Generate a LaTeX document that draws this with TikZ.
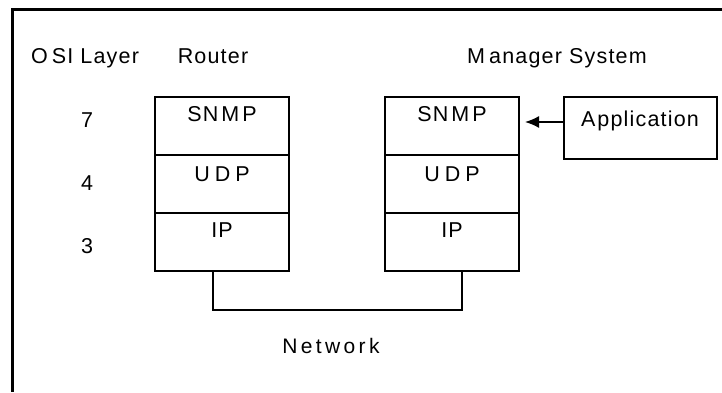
\documentclass[tikz,border=0pt]{standalone}
\usepackage{fontspec}
\setmainfont{Liberation Sans}[LetterSpace=5.5]
\usetikzlibrary{arrows.meta}

\begin{document}
\begin{tikzpicture}[x=1pt,y=-1pt,
  txt/.style={font=\fontsize{21.5}{24}\selectfont, inner sep=0pt, anchor=base},
  widetxt/.style={txt, font=\fontsize{21}{24}\selectfont\addfontfeature{LetterSpace=16}},
  layer/.style={draw, line width=2pt, minimum width=134pt, minimum height=58pt, inner sep=0pt},
  appbox/.style={draw, line width=2pt, minimum width=153pt, minimum height=62pt, inner sep=0pt},
  link/.style={line width=1.6pt},
  arr/.style={line width=1.6pt, -{Latex[length=14pt,width=12pt]}, shorten >=5pt}
]
\useasboundingbox (0,0) rectangle (722,392);

% open frame: top and left edges only
\draw[line width=3pt] (722,9) -- (12,9) -- (12,392);

% column headings
\node[txt] (hosi) at (85,63) {O\kern4pt SI Layer};
\node[txt] (hrouter) at (213,63) {Router};
\node[txt] (hmgr) at (557,63) {M\kern4pt anager System};

% layer numbers
\node[txt] (n7) at (87,127) {7};
\node[txt] (n4) at (87,190) {4};
\node[txt] (n3) at (87,253) {3};

% router protocol stack
\node[layer] (r7) at (222,126) {};
\node[layer] (r4) at (222,184) {};
\node[layer] (r3) at (222,242) {};
% manager protocol stack
\node[layer] (m7) at (452,126) {};
\node[layer] (m4) at (452,184) {};
\node[layer] (m3) at (452,242) {};

% layer names
\path (r7.north) ++(0,25) node[txt] (r7t) {SN\kern3pt M\kern3pt P};
\path (r4.north) ++(0,27) node[txt] (r4t) {U\kern5pt D\kern5pt P};
\path (r3.north) ++(0,25) node[txt] (r3t) {IP};
\path (m7.north) ++(0,25) node[txt] (m7t) {SN\kern3pt M\kern3pt P};
\path (m4.north) ++(0,27) node[txt] (m4t) {U\kern5pt D\kern5pt P};
\path (m3.north) ++(0,25) node[txt] (m3t) {IP};

% application feeding the manager's SNMP layer
\node[appbox] (app) at (640,128) {};
\path (app.north) ++(0,30) node[txt] (appt) {A\kern2pt pplication};
\coordinate (appout) at ([yshift=6pt]app.west);
\draw[arr] (appout) -- (appout -| m7.east);

% network link between the two IP layers
\coordinate (rb) at ([xshift=-9pt]r3.south);
\coordinate (mb) at ([xshift=10pt]m3.south);
\draw[link] (rb) -- ++(0,38) -| (mb);
\node[widetxt] (net) at (331,353) {Network};
\end{tikzpicture}
\end{document}
